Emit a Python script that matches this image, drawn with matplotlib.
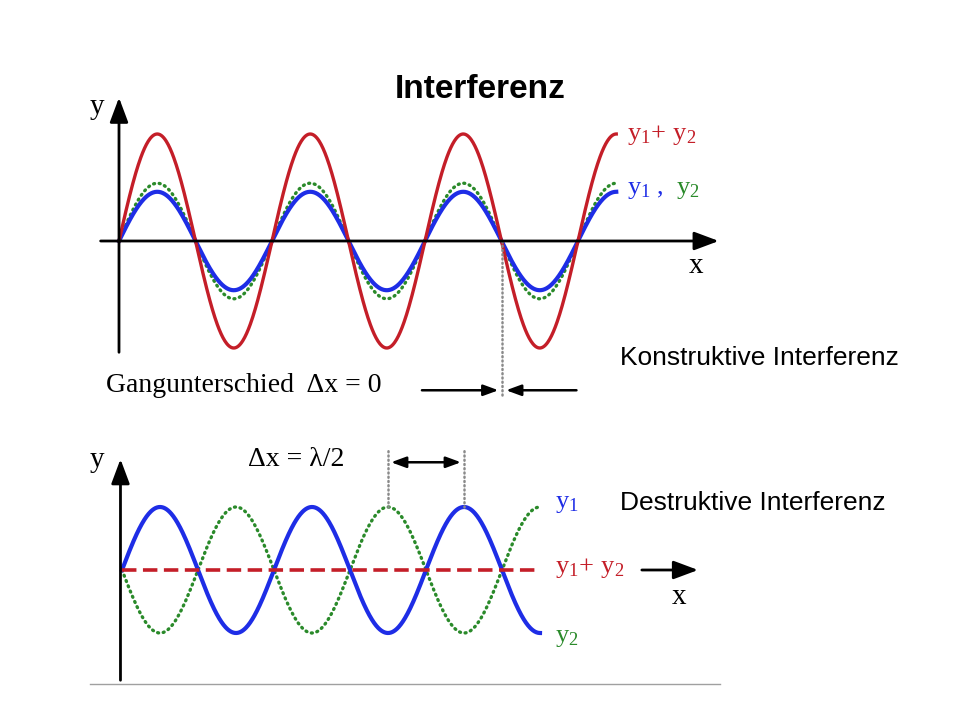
import numpy as np
import matplotlib
matplotlib.use("Agg")
import matplotlib.pyplot as plt

plt.rcParams['mathtext.fontset'] = 'custom'
plt.rcParams['mathtext.rm'] = 'Liberation Serif'
plt.rcParams['mathtext.it'] = 'Liberation Serif:italic'

# wave data (units: wavelength along x, amplitude along y)
top_periods = 3.25          # top plot runs 3 1/4 wavelengths
top_amp_y1 = 0.92
top_amp_y2 = 1.08
top_path_diff = 0.0         # Gangunterschied = 0
top_marker_x = 2.5          # where the dotted marker sits

bot_periods = 2.75
bot_amp_y1 = 1.0
bot_amp_y2 = 1.0
bot_path_diff = 0.5         # lambda / 2
bot_marker_x = [1.75, 2.25]

c_red = '#c41e28'
c_blue = '#1e2de6'
c_green = '#2a8a2a'
c_gray = '#8a8a8a'

W, H = 960, 720
fig = plt.figure(figsize=(9.6, 7.2), dpi=100)


def diagram_axes(x0, y0, sx, sy):
    # axes spanning the figure, origin at pixel (x0, y0), sx/sy pixels per unit
    ax = fig.add_axes([0, 0, 1, 1])
    ax.set_xlim(-x0 / sx, (W - x0) / sx)
    ax.set_ylim(-(H - y0) / sy, y0 / sy)
    ax.axis('off')
    ax.patch.set_visible(False)
    return ax


def arrow(ax, tail, tip, lw=2.0, hl=0.75, hw=0.28, ms=20, style='-|>'):
    ax.annotate('', xy=tip, xytext=tail,
                arrowprops=dict(arrowstyle=f'{style},head_length={hl},head_width={hw}',
                                lw=lw, color='black', shrinkA=0, shrinkB=0,
                                mutation_scale=ms))


def ptext(px, py, s, **kw):
    fig.text(px / W, 1 - py / H, s, **kw)


serif = dict(family='Liberation Serif')
sans = dict(family='Liberation Sans')
dots = (0, (0.3, 1.4))
sum_label = r'$\mathrm{y}_1\!+\,\mathrm{y}_2$'

# ---------------- top: constructive ----------------
ax1 = diagram_axes(119, 241, 153, 53.5)
t = np.linspace(0, top_periods, 800)
y1 = top_amp_y1 * np.sin(2 * np.pi * t)
y2 = top_amp_y2 * np.sin(2 * np.pi * (t - top_path_diff))
ax1.plot(t, y2, color=c_green, lw=2.4, ls=dots, dash_capstyle='round')
ax1.plot(t, y1, color=c_blue, lw=3.0)
ax1.plot(t, y1 + y2, color=c_red, lw=2.4)

arrow(ax1, (-0.12, 0), (3.92, 0))
arrow(ax1, (0, -2.08), (0, 2.68))
ax1.plot([top_marker_x, top_marker_x], [0, -2.93], color=c_gray, lw=1.8,
         ls=(0, (0.4, 1.3)), dash_capstyle='round')
arrow(ax1, (top_marker_x - 0.52, -2.79), (top_marker_x - 0.02, -2.79), lw=1.8,
      hl=0.6, hw=0.22, ms=15)
arrow(ax1, (top_marker_x + 0.49, -2.79), (top_marker_x + 0.03, -2.79), lw=1.8,
      hl=0.6, hw=0.22, ms=15)

ptext(97, 107, 'y', fontsize=21, ha='center', va='center', **serif)
ptext(696, 266, 'x', fontsize=21, ha='center', va='center', **serif)
ptext(627, 134, sum_label, fontsize=19, color=c_red, ha='left', va='center')
ptext(627, 188, r'$\mathrm{y}_1\ ,$', fontsize=19, color=c_blue, ha='left', va='center')
ptext(676, 188, r'$\mathrm{y}_2$', fontsize=19, color=c_green, ha='left', va='center')
ptext(106, 386, 'Gangunterschied  \u0394x = 0', fontsize=20, ha='left',
      va='center', **serif)

# ---------------- bottom: destructive ----------------
ax2 = diagram_axes(122, 570, 152, 63)
t = np.linspace(0, bot_periods, 800)
y1 = bot_amp_y1 * np.sin(2 * np.pi * t)
y2 = bot_amp_y2 * np.sin(2 * np.pi * (t - bot_path_diff))
ax2.plot(t, y2, color=c_green, lw=2.4, ls=dots, dash_capstyle='round')
ax2.plot(t, y1, color=c_blue, lw=3.0)
ax2.plot(t, y1 + y2, color=c_red, lw=2.6, ls=(0, (4.0, 1.8)))

arrow(ax2, (-0.01, -1.75), (-0.01, 1.76))
arrow(ax2, (3.42, 0), (3.79, 0))
for xm in bot_marker_x:
    ax2.plot([xm, xm], [1.0, 1.92], color=c_gray, lw=1.8, ls=(0, (0.4, 1.3)),
             dash_capstyle='round')
arrow(ax2, (bot_marker_x[0] + 0.02, 1.71), (bot_marker_x[1] - 0.02, 1.71), lw=1.8,
      hl=0.6, hw=0.22, ms=15, style='<|-|>')

ptext(97, 460, 'y', fontsize=21, ha='center', va='center', **serif)
ptext(679, 597, 'x', fontsize=21, ha='center', va='center', **serif)
ptext(296, 460, '\u0394x = \u03bb/2', fontsize=20, ha='center', va='center', **serif)
ptext(555, 502, r'$\mathrm{y}_1$', fontsize=19, color=c_blue, ha='left', va='center')
ptext(555, 567, sum_label, fontsize=19, color=c_red, ha='left', va='center')
ptext(555, 636, r'$\mathrm{y}_2$', fontsize=19, color=c_green, ha='left', va='center')

fig.add_artist(plt.Line2D([90 / W, 720 / W], [1 - 684 / H, 1 - 684 / H],
                          color='#a0a0a0', lw=1.0))

# ---------------- slide texts ----------------
ptext(480, 90, 'Interferenz', fontsize=24, fontweight='bold', ha='center',
      va='center', **sans)
ptext(620, 358, 'Konstruktive Interferenz', fontsize=19, ha='left', va='center', **sans)
ptext(620, 503, 'Destruktive Interferenz', fontsize=19, ha='left', va='center', **sans)

fig.savefig('out.png', dpi=100)
